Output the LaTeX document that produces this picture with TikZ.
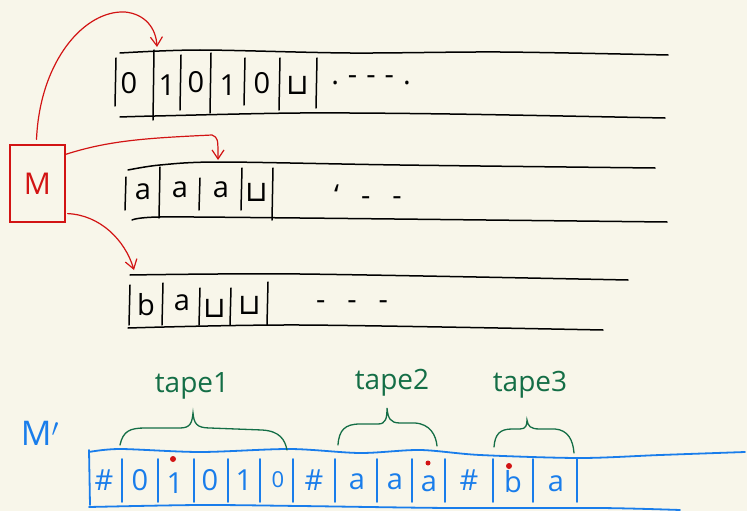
\documentclass[tikz,border=0pt]{standalone}
\usepackage{fontspec}
\setmainfont{Open Sans}
\newfontfamily\symfont{DejaVu Sans}
\usetikzlibrary{arrows.meta}
\definecolor{paper}{RGB}{248,246,234}
\definecolor{inkred}{RGB}{210,20,20}
\definecolor{inkblue}{RGB}{25,125,235}
\definecolor{inkgreen}{RGB}{20,110,70}
\newcommand{\blank}{{\symfont ⊔}}
\tikzset{
  tapeline/.style={line width=1.5pt, line cap=round, black},
  cellsym/.style={font=\fontsize{29}{32}\selectfont, inner sep=0pt},
  ctrl/.style={line width=1.2pt, inkred, line cap=round, -{Straight Barb[length=9pt,width=12pt]}},
  btape/.style={line width=1.8pt, line cap=round, inkblue},
  bsym/.style={font=\fontsize{29}{32}\selectfont, inner sep=0pt, text=inkblue},
  headdot/.style={fill=inkred, draw=none},
  gbrace/.style={line width=1.3pt, inkgreen, line cap=round},
  glabel/.style={font=\fontsize{28}{32}\selectfont, text=inkgreen, inner sep=0pt},
}
\begin{document}
\begin{tikzpicture}[x=1pt,y=-1pt]
\fill[paper] (0,0) rectangle (747,511);
\useasboundingbox (0,0) rectangle (747,511);

% ---------- tape 1 ----------
\draw[tapeline] plot[smooth] coordinates {(120,53) (200,50) (350,53) (500,52) (668,55)};
\draw[tapeline] plot[smooth] coordinates {(120,117) (155,116) (300,113) (450,114) (665,118)};
\foreach \x/\ya/\yb in {116/58/106, 154/50/120, 181/55/110, 211/53/113, 245/58/105, 280/58/110, 317/58/108}
  \draw[tapeline] (\x,\ya) -- (\x-1,\yb);
\node[cellsym] (t1a) at (129,83) {0};
\node[cellsym] (t1b) at (167,85) {1};
\node[cellsym] (t1c) at (196,82) {0};
\node[cellsym] (t1d) at (228,85) {1};
\node[cellsym] (t1e) at (262,83) {0};
\node[cellsym] (t1f) at (298,85) {\blank};
\node[cellsym] (t1dots) at (371,80) {.\hspace{9pt}-\hspace{9pt}-\hspace{9pt}-\hspace{9pt}.};

% ---------- tape 2 ----------
\draw[tapeline] plot[smooth] coordinates {(128,170) (160,165) (220,162) (400,165) (655,168)};
\draw[tapeline] plot[smooth] coordinates {(132,220) (160,217) (300,218) (667,222)};
\foreach \x/\ya/\yb in {126/177/210, 160/167/218, 200/178/210, 242/168/210, 273/168/220}
  \draw[tapeline] (\x,\ya) -- (\x-1,\yb);
\node[cellsym] (t2a) at (143,192) {a};
\node[cellsym] (t2b) at (180,190) {a};
\node[cellsym] (t2c) at (221,190) {a};
\node[cellsym] (t2d) at (257,192) {\blank};
\node[cellsym] (t2dots) at (368,195) {`\hspace{22pt}-\hspace{22pt}-};

% ---------- tape 3 ----------
\draw[tapeline] plot[smooth] coordinates {(130,275) (300,274) (628,280)};
\draw[tapeline] plot[smooth] coordinates {(128,328) (300,325) (603,330)};
\foreach \x/\ya/\yb in {130/285/325, 163/283/325, 200/288/325, 231/288/325, 268/282/325}
  \draw[tapeline] (\x,\ya) -- (\x-1,\yb);
\node[cellsym] (t3a) at (146,305) {b};
\node[cellsym] (t3b) at (182,303) {a};
\node[cellsym] (t3c) at (215,308) {\blank};
\node[cellsym] (t3d) at (250,305) {\blank};
\node[cellsym] (t3dots) at (352,305) {-\hspace{22pt}-\hspace{22pt}-};

% ---------- machine M and its heads ----------
\node[draw=inkred, line width=1.2pt, minimum width=55pt, minimum height=77pt,
      text=inkred, font=\fontsize{30}{34}\selectfont] (M) at (37.5,183.5) {M};
\coordinate (h1) at (157,47);
\coordinate (h2) at (218,160);
\coordinate (h3) at (134,270);
\draw[ctrl] ([xshift=-1pt,yshift=5pt]M.north) .. controls (40,60) and (85,10) .. (125,12)
            .. controls (145,14) and (156,28) .. (h1);
\draw[ctrl] ([yshift=-10pt]M.north east) .. controls (110,140) and (150,138) .. (212,135)
            .. controls (218,138) .. (h2);
\draw[ctrl] ([yshift=9pt,xshift=2pt]M.south east) .. controls (100,215) and (125,240) .. (h3);

% ---------- single tape of M' ----------
\node[text=inkblue, font=\fontsize{34}{38}\selectfont, inner sep=0pt] (Mp) at (40,433) {M$'$};
\draw[btape] plot[smooth] coordinates {(89,452) (120,449) (200,452) (290,449) (360,453) (420,450) (480,455) (580,458) (660,455) (745,452)};
\draw[btape] plot[smooth] coordinates {(89,507) (200,505) (300,506) (450,508) (600,508) (680,510)};
\draw[btape] (89,450) -- (90,505);
\foreach \x in {122,158,194,228,260,293,335,377,412,445,493,533,577}
  \draw[btape] (\x,459) -- (\x,502);
\node[bsym] (c1)  at (104,480) {\#};
\node[bsym] (c2)  at (140,480) {0};
\node[bsym] (c3)  at (175,483) {1};
\node[bsym] (c4)  at (210,480) {0};
\node[bsym] (c5)  at (244,480) {1};
\node[bsym, font=\fontsize{22}{26}\selectfont] (c6) at (278,480) {0};
\node[bsym] (c7)  at (314,480) {\#};
\node[bsym] (c8)  at (357,482) {a};
\node[bsym] (c9)  at (395,482) {a};
\node[bsym] (c10) at (429,484) {a};
\node[bsym] (c11) at (469,480) {\#};
\node[bsym] (c12) at (513,482) {b};
\node[bsym] (c13) at (556,484) {a};
\fill[headdot] (173,459) circle (3pt);
\fill[headdot] (428,463) circle (2.5pt);
\fill[headdot] (509,466) circle (3pt);

% ---------- braces and labels ----------
\draw[gbrace] (120,445) .. controls (123,431) and (130,428) .. (145,428) -- (180,428)
              .. controls (191,428) and (192,422) .. (193,413)
              .. controls (194,423) and (196,428) .. (210,428) -- (262,430)
              .. controls (280,431) and (285,440) .. (287,450);
\draw[gbrace] (338,445) .. controls (339,430) and (345,424) .. (360,424) -- (378,424)
              .. controls (386,424) and (387,418) .. (387,408)
              .. controls (388,418) and (390,423) .. (400,423) -- (415,423)
              .. controls (430,424) and (436,435) .. (437,446);
\draw[gbrace] (494,447) .. controls (495,434) and (500,429) .. (512,429) -- (520,429)
              .. controls (526,429) and (527,425) .. (527,420)
              .. controls (528,426) and (530,429) .. (540,429) -- (555,429)
              .. controls (568,430) and (573,440) .. (574,453);
\node[glabel] (L1) at (192,386) {tape1};
\node[glabel] (L2) at (392,383) {tape2};
\node[glabel] (L3) at (530,385) {tape3};
\end{tikzpicture}
\end{document}
